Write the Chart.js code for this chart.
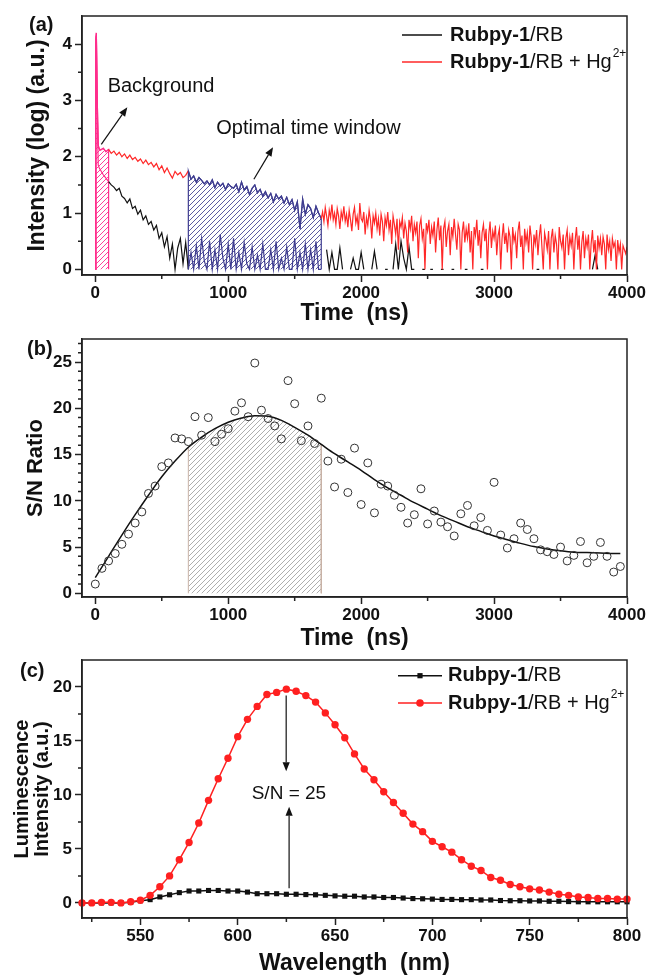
<!DOCTYPE html>
<html><head><meta charset="utf-8">
<script src="https://cdn.jsdelivr.net/npm/chart.js@4.4.1/dist/chart.umd.min.js"></script>
<style>
html,body{margin:0;padding:0;background:#fff;}
body{width:649px;height:977px;position:relative;overflow:hidden;}
canvas{position:absolute;left:0;}
</style></head><body>
<canvas id="cA" width="649" height="330" style="top:0px"></canvas>
<canvas id="cB" width="649" height="340" style="top:315px"></canvas>
<canvas id="cC" width="649" height="337" style="top:640px"></canvas>
<script>
// ---------------- DATA ----------------
const seriesNames = ['Rubpy-1/RB', 'Rubpy-1/RB + Hg²⁺'];
const legendParts = [
  [['Rubpy-1', 'b'], ['/RB', 'n']],
  [['Rubpy-1', 'b'], ['/RB + Hg', 'n'], ['2+', 'sup']]
];

// Panel (a): time-resolved decay, log intensity
const decayEarlyTimes = [0, 4, 8, 14, 22, 30];
const coarseStart = 40, coarseStep = 20;   // time base 40..1700 ns (red) and 40..4000 ns (black)
const fineStart = 1710, fineStep = 10;     // time base 1710..4000 ns (red tail)
const redEarly   = [0, 4.1, 4.2, 3.1, 2.2, 2.14];
const blackEarly = [0, 4.05, 4.15, 2.9, 1.85, 1.8];
const redCoarse = [
  2.12, 2.15, 2.09, 2.13, 2.06, 2.10, 2.03, 2.08, 2.00, 2.05,
  1.97, 2.03, 1.95, 1.99, 1.92, 1.96, 1.88, 1.94, 1.86, 1.90,
  1.82, 1.88, 1.77, 1.84, 1.72, 1.80, 1.70, 1.62, 1.74, 1.68,
  1.72, 1.63, 1.67, 1.75, 1.60, 1.66, 1.55, 1.63, 1.58, 1.52,
  1.57, 1.50, 1.59, 1.45, 1.55, 1.48, 1.53, 1.42, 1.52, 1.47,
  1.44, 1.51, 1.38, 1.55, 1.41, 1.47, 1.33, 1.44, 1.50, 1.36,
  1.42, 1.30, 1.38, 1.27, 1.35, 1.20, 1.33, 1.25, 1.30, 1.18,
  1.28, 1.15, 1.24, 1.05, 1.20, 0.72, 1.25, 0.98, 1.15, 1.08,
  0.92, 1.12, 1.00, 0.90
];
const redFine = [
  1.02, 0.85, 1.10, 0.95, 0.78, 1.05, 0.92, 1.15, 0.88, 1.00,
  0.80, 1.08, 0.95, 0.72, 1.02, 0.90, 1.12, 0.85, 0.98, 0.75,
  1.05, 0.88, 0.68, 0.98, 1.10, 0.82, 0.94, 0.70, 1.18, 0.90,
  0.85, 1.02, 0.62, 0.92, 0.78, 1.05, 0.88, 0.55, 0.95, 0.82,
  1.00, 0.72, 0.90, 0.60, 0.98, 0.85, 0.50, 0.92, 0.78, 1.02,
  0.70, 0.88, 0.45, 0.95, 0.80, 0.62, 0.90, 0.35, 0.85, 0.75,
  0.92, 0.55, 0.82, 0.68, 0.30, 0.88, 0.72, 0.95, 0.50, 0.80,
  0.65, 0.85, 0.20, 0.78, 0.90, 0.55, 0.72, 0.00, 0.82, 0.68,
  0.88, 0.45, 0.75, 0.60, 0.85, 0.30, 0.70, 0.92, 0.52, 0.78,
  0.00, 0.72, 0.85, 0.40, 0.68, 0.80, 0.25, 0.75, 0.58, 0.90,
  0.62, 0.35, 0.80, 0.70, 0.00, 0.65, 0.85, 0.48, 0.72, 0.55,
  0.82, 0.30, 0.68, 0.00, 0.75, 0.60, 0.88, 0.42, 0.70, 0.20,
  0.65, 0.80, 0.50, 0.72, 0.00, 0.62, 0.85, 0.38, 0.68, 0.55,
  0.78, 0.25, 0.60, 0.72, 0.00, 0.55, 0.82, 0.45, 0.65, 0.30,
  0.70, 0.58, 0.00, 0.75, 0.50, 0.62, 0.20, 0.68, 0.85, 0.40,
  0.60, 0.00, 0.72, 0.48, 0.65, 0.30, 0.78, 0.55, 0.00, 0.62,
  0.45, 0.70, 0.25, 0.58, 0.80, 0.40, 0.00, 0.65, 0.52, 0.35,
  0.68, 0.00, 0.55, 0.72, 0.30, 0.60, 0.45, 0.00, 0.75, 0.50,
  0.38, 0.62, 0.00, 0.55, 0.70, 0.25, 0.58, 0.42, 0.65, 0.00,
  0.52, 0.75, 0.35, 0.60, 0.00, 0.48, 0.68, 0.20, 0.55, 0.40,
  0.62, 0.00, 0.45, 0.70, 0.30, 0.52, 0.00, 0.60, 0.38, 0.55,
  0.25, 0.58, 0.45, 0.00, 0.62, 0.35, 0.50, 0.15, 0.55, 0.40,
  0.48, 0.00, 0.52, 0.30, 0.45, 0.00, 0.42, 0.35, 0.28, 0.40
];
const blackCoarse = [
  1.76, 1.68, 1.62, 1.56, 1.50, 1.46, 1.40, 1.44, 1.30, 1.26,
  1.18, 1.25, 1.08, 1.12, 0.98, 1.05, 0.88, 0.95, 0.80, 0.85,
  0.70, 0.78, 0.55, 0.65, 0.40, 0.58, 0.20, 0.45, 0.00, 0.38,
  0.55, 0.10, 0.48, 0.00, 0.30, 0.00, 0.42, 0.00, 0.55, 0.15,
  0.00, 0.50, 0.00, 0.35, 0.00, 0.62, 0.20, 0.00, 0.45, 0.00,
  0.55, 0.00, 0.30, 0.00, 0.48, 0.10, 0.00, 0.40, 0.00, 0.25,
  0.00, 0.45, 0.00, 0.00, 0.35, 0.00, 0.50, 0.00, 0.20, 0.00,
  0.40, 0.00, 0.00, 0.55, 0.00, 0.30, 0.00, 0.45, 0.00, 0.35,
  0.00, 0.50, 0.00, 0.00, null, 0.35, 0.00, 0.30, 0.00, 0.00,
  0.38, 0.00, null, null, 0.00, 0.20, 0.00, 0.00, 0.30, 0.00,
  null, null, 0.00, 0.32, 0.00, null, null, 0.00, 0.00, null,
  0.00, 0.45, 0.00, 0.50, 0.20, 0.00, 0.40, 0.00, 0.00, null,
  null, 0.00, 0.00, null, 0.00, 0.00, null, null, 0.00, 0.00,
  null, null, 0.00, 0.00, null, null, null, 0.00, 0.00, null,
  null, null, null, 0.00, 0.00, null, null, null, null, null,
  null, null, null, null, null, null, null, null, null, null,
  null, null, null, null, 0.00, 0.00, null, null, null, null,
  null, null, null, null, null, null, null, null, null, null,
  null, null, null, null, null, 0.00, 0.25, 0.00, null, null,
  null, null, null, null, null, null, null, null, null
];
const bgWindow = [0, 100];
const optWindow = [700, 1700];
const ticksAX = [0, 1000, 2000, 3000, 4000];
const minorAX = [500, 1500, 2500, 3500];
const ticksAY = [0, 1, 2, 3, 4];
const minorAY = [0.5, 1.5, 2.5, 3.5];

// Panel (b): S/N ratio vs delay time
const snValues = [
  1.0, 2.7, 3.5, 4.3, 5.3, 6.4, 7.6, 8.8, 10.8, 11.6,
  13.7, 14.1, 16.8, 16.7, 16.4, 19.1, 17.1, 19.0, 16.4, 17.2,
  17.8, 19.7, 20.6, 19.1, 24.9, 19.8, 18.9, 18.1, 16.7, 23.0,
  20.5, 16.5, 18.1, 16.2, 21.1, 14.3, 11.5, 14.5, 10.9, 15.7,
  9.6, 14.1, 8.7, 11.8, 11.6, 10.6, 9.3, 7.6, 8.5, 11.3,
  7.5, 8.9, 7.7, 7.2, 6.2, 8.6, 9.5, 7.3, 8.2, 6.8,
  12.0, 6.3, 4.9, 5.9, 7.6, 6.9, 5.9, 4.7, 4.5, 4.2,
  5.0, 3.5, 4.1, 5.6, 3.3, 4.0, 5.5, 4.0, 2.3, 2.9
];
const snStep = 50;
const fitTimes = [0, 100, 200, 300, 400, 500, 600, 700, 800, 900, 1000, 1100, 1200, 1300, 1400, 1500, 1600, 1700, 1800, 1900,
  2000, 2100, 2200, 2300, 2400, 2500, 2600, 2700, 2800, 2900, 3000, 3100, 3200, 3300, 3400, 3500, 3600, 3700, 3800, 3900, 3950];
const fitValues = [1.7, 4.0, 6.3, 8.5, 10.6, 12.6, 14.3, 15.8, 16.9, 17.8, 18.5, 18.95, 19.2, 19.15, 18.7, 17.95, 17.1, 16.1, 15.1, 14.2,
  13.3, 12.3, 11.4, 10.6, 9.8, 9.1, 8.4, 7.8, 7.2, 6.7, 6.2, 5.8, 5.4, 5.05, 4.8, 4.6, 4.45, 4.4, 4.35, 4.3, 4.3];
const ticksBX = [0, 1000, 2000, 3000, 4000];
const minorBX = [500, 1500, 2500, 3500];
const ticksBY = [0, 5, 10, 15, 20, 25];
const minorBY = [1, 2, 3, 4, 6, 7, 8, 9, 11, 12, 13, 14, 16, 17, 18, 19, 21, 22, 23, 24, 26, 27];

// Panel (c): emission spectra
const wlStart = 520, wlStep = 5;
const specRed = [
  0.0, 0.0, 0.05, 0.05, 0.0, 0.1,
  0.25, 0.7, 1.5, 2.5, 4.0, 5.6, 7.4, 9.5, 11.5, 13.4,
  15.4, 17.0, 18.2, 19.3, 19.5, 19.8, 19.6, 19.2, 18.6, 17.6,
  16.5, 15.3, 13.8, 12.4, 11.4, 10.3, 9.3, 8.3, 7.3, 6.6,
  5.7, 5.2, 4.7, 4.0, 3.4, 3.0, 2.35, 2.1, 1.7, 1.5,
  1.3, 1.2, 1.0, 0.8, 0.7, 0.55, 0.5, 0.4, 0.4, 0.35,
  0.35
];
const specBlack = [
  0.0, 0.0, 0.0, 0.0, 0.0, 0.05,
  0.2, 0.3, 0.55, 0.75, 0.95, 1.1, 1.1, 1.15, 1.15, 1.1,
  1.1, 1.0, 0.85, 0.85, 0.85, 0.8, 0.8, 0.77, 0.75, 0.7,
  0.65, 0.62, 0.62, 0.55, 0.55, 0.5, 0.5, 0.45, 0.4, 0.38,
  0.35, 0.32, 0.32, 0.3, 0.3, 0.27, 0.27, 0.22, 0.2, 0.2,
  0.18, 0.18, 0.15, 0.15, 0.12, 0.1, 0.1, 0.1, 0.1, 0.1,
  0.1
];
const ticksCX = [550, 600, 650, 700, 750, 800];
const minorCX = [525, 575, 625, 675, 725, 775];
const ticksCY = [0, 5, 10, 15, 20];
const minorCY = [2.5, 7.5, 12.5, 17.5];

// ---------------- STYLE / HELPERS ----------------
const FONT = "'Liberation Sans', Arial, Helvetica, sans-serif";
Chart.defaults.font.family = FONT;
const PINK = '#ff2d8c', BLUE = '#3f3d90', RED = '#ff2828', BLACK = '#111111', AX = '#222222';

function hatch(color, s, lw) {
  const c = document.createElement('canvas'); c.width = s; c.height = s;
  const g = c.getContext('2d'); g.strokeStyle = color; g.lineWidth = lw;
  g.beginPath();
  g.moveTo(0, s); g.lineTo(s, 0);
  g.moveTo(-1, 1); g.lineTo(1, -1);
  g.moveTo(s - 1, s + 1); g.lineTo(s + 1, s - 1);
  g.stroke();
  return g.createPattern(c, 'repeat');
}
const pts = (xs, ys) => xs.map((x, i) => ({x, y: ys[i]}));

const TICK_FONT = {family: FONT, size: 17, weight: 'bold'};
function xAxis(min, max, ticks, title, height, padBottom) {
  return {
    type: 'linear', min, max,
    afterBuildTicks: s => { s.ticks = ticks.map(v => ({value: v})); },
    afterFit: s => { s.height = height; },
    grid: {drawOnChartArea: false, drawTicks: true, tickLength: 7, tickWidth: 1.5, tickColor: AX},
    border: {display: true, color: AX, width: 1.5},
    ticks: {font: TICK_FONT, color: '#111', padding: 1, maxRotation: 0, autoSkip: false, callback: v => String(v)},
    title: {display: true, text: title, color: '#111', font: {family: FONT, size: 23, weight: 'bold'}, padding: {top: 0, bottom: padBottom}}
  };
}
function yAxis(min, max, ticks, title, titleSize, padTop, lineHeight) {
  return {
    type: 'linear', min, max,
    afterBuildTicks: s => { s.ticks = ticks.map(v => ({value: v})); },
    afterFit: s => { s.width = 82; },
    grid: {drawOnChartArea: false, drawTicks: true, tickLength: 7, tickWidth: 1.5, tickColor: AX},
    border: {display: true, color: AX, width: 1.5},
    ticks: {font: TICK_FONT, color: '#111', padding: 3, autoSkip: false, callback: v => String(v)},
    title: {display: true, text: title, color: '#111', font: {family: FONT, size: titleSize, weight: 'bold', lineHeight: lineHeight || 1.2}, padding: {top: padTop, bottom: 0}}
  };
}

function arrow(ctx, x1, y1, x2, y2) {
  const ang = Math.atan2(y2 - y1, x2 - x1), L = 9, W = 3.6;
  const bx = x2 - L * Math.cos(ang), by = y2 - L * Math.sin(ang);
  ctx.beginPath(); ctx.moveTo(x1, y1); ctx.lineTo(bx, by); ctx.stroke();
  ctx.beginPath(); ctx.moveTo(x2, y2);
  ctx.lineTo(bx + W * Math.sin(ang), by - W * Math.cos(ang));
  ctx.lineTo(bx - W * Math.sin(ang), by + W * Math.cos(ang));
  ctx.closePath(); ctx.fill();
}

const decor = {
  id: 'decor',
  afterDraw(chart, args, o) {
    const {ctx, chartArea: a} = chart; const sx = chart.scales.x, sy = chart.scales.y;
    ctx.save();
    ctx.strokeStyle = AX; ctx.lineWidth = 1.5;
    ctx.strokeRect(a.left, a.top, a.right - a.left, a.bottom - a.top);
    ctx.beginPath();
    (o.minorX || []).forEach(v => { const p = sx.getPixelForValue(v); ctx.moveTo(p, a.bottom); ctx.lineTo(p, a.bottom + 4); });
    (o.minorY || []).forEach(v => { const p = sy.getPixelForValue(v); ctx.moveTo(a.left, p); ctx.lineTo(a.left - 4, p); });
    ctx.stroke();
    ctx.fillStyle = '#111'; ctx.textBaseline = 'middle'; ctx.textAlign = 'left';
    if (o.panel) { ctx.font = 'bold 20px ' + FONT; ctx.fillText(o.panel.text, o.panel.x, o.panel.y); }
    (o.legend || []).forEach(e => {
      ctx.strokeStyle = e.color; ctx.lineWidth = 1.5;
      ctx.beginPath(); ctx.moveTo(e.x0, e.y); ctx.lineTo(e.x1, e.y); ctx.stroke();
      if (e.marker) {
        ctx.fillStyle = e.color; const mx = (e.x0 + e.x1) / 2;
        if (e.marker === 'rect') ctx.fillRect(mx - 2.6, e.y - 2.6, 5.2, 5.2);
        else { ctx.beginPath(); ctx.arc(mx, e.y, 3.8, 0, Math.PI * 2); ctx.fill(); }
      }
      ctx.fillStyle = '#111';
      let x = e.tx;
      e.parts.forEach(([t, s]) => {
        if (s === 'sup') { ctx.font = '12px ' + FONT; ctx.fillText(t, x + 1, e.y - 8); x += ctx.measureText(t).width + 1; }
        else { ctx.font = (s === 'b' ? 'bold ' : '') + '20px ' + FONT; ctx.fillText(t, x, e.y); x += ctx.measureText(t).width; }
      });
    });
    ctx.fillStyle = '#111'; ctx.strokeStyle = '#111'; ctx.lineWidth = 1.2;
    (o.notes || []).forEach(n => {
      ctx.font = n.size + 'px ' + FONT; ctx.textAlign = n.align || 'left';
      ctx.fillText(n.text, sx.getPixelForValue(n.x), sy.getPixelForValue(n.y));
    });
    (o.arrows || []).forEach(r => {
      arrow(ctx, sx.getPixelForValue(r[0]), sy.getPixelForValue(r[1]), sx.getPixelForValue(r[2]), sy.getPixelForValue(r[3]));
    });
    ctx.restore();
  }
};

function zoneColor(base) {
  return c => {
    const x0 = c.p0.parsed.x, x1 = c.p1.parsed.x;
    if (x1 <= bgWindow[1]) return PINK;
    if (x0 >= optWindow[0] && x1 <= optWindow[1]) return BLUE;
    return base;
  };
}

// ---------------- PANEL (a) ----------------
const timesRed = decayEarlyTimes
  .concat(redCoarse.map((_, i) => coarseStart + i * coarseStep))
  .concat(redFine.map((_, i) => fineStart + i * fineStep));
const timesBlack = decayEarlyTimes.concat(blackCoarse.map((_, i) => coarseStart + i * coarseStep));
const redPts = pts(timesRed, redEarly.concat(redCoarse, redFine));
const blackPts = pts(timesBlack, blackEarly.concat(blackCoarse));
const bgFill = redPts.filter(p => p.x <= bgWindow[1]).concat([{x: bgWindow[1], y: 0}]);
const optFill = [{x: optWindow[0], y: 0}].concat(redPts.filter(p => p.x >= optWindow[0] && p.x <= optWindow[1]), [{x: optWindow[1], y: 0}]);

new Chart(document.getElementById('cA'), {
  type: 'line',
  data: {datasets: [
    {label: seriesNames[1], data: redPts, borderColor: RED, borderWidth: 1.2, pointRadius: 0, segment: {borderColor: zoneColor(RED)}, order: 1},
    {label: seriesNames[0], data: blackPts, borderColor: BLACK, borderWidth: 1.2, pointRadius: 0, spanGaps: false, segment: {borderColor: zoneColor(BLACK)}, order: 2},
    {label: 'Background', data: bgFill, borderColor: PINK, borderWidth: 1.2, pointRadius: 0, fill: 'origin', backgroundColor: hatch(PINK, 5, 0.9), order: 3},
    {label: 'Optimal time window', data: optFill, borderColor: BLUE, borderWidth: 1.2, pointRadius: 0, fill: 'origin', backgroundColor: hatch(BLUE, 5, 0.85), order: 3}
  ]},
  options: {
    responsive: false, animation: false, events: [],
    layout: {padding: {left: 0, right: 22, top: 16, bottom: 0}},
    plugins: {
      legend: {display: false}, tooltip: {enabled: false},
      decor: {
        minorX: minorAX, minorY: minorAY,
        panel: {text: '(a)', x: 29, y: 25.5},
        legend: [
          {x0: 402, x1: 442, y: 35, color: BLACK, tx: 450, parts: legendParts[0]},
          {x0: 402, x1: 442, y: 62, color: RED, tx: 450, parts: legendParts[1]}
        ],
        notes: [
          {text: 'Background', x: 93, y: 3.24, size: 20},
          {text: 'Optimal time window', x: 910, y: 2.51, size: 20}
        ],
        arrows: [[45, 2.22, 241, 2.88], [1193, 1.60, 1337, 2.17]]
      }
    },
    scales: {
      x: xAxis(-100, 4000, ticksAX, 'Time  (ns)', 55, 3),
      y: yAxis(-0.1, 4.5, ticksAY, 'Intensity (log) (a.u.)', 23, 23.5)
    }
  },
  plugins: [decor]
});

// ---------------- PANEL (b) ----------------
const snPts = pts(snValues.map((_, i) => i * snStep), snValues);
const fitPts = pts(fitTimes, fitValues);
const fitFill = [{x: optWindow[0], y: 0}].concat(fitPts.filter(p => p.x >= optWindow[0] && p.x <= optWindow[1]), [{x: optWindow[1], y: 0}]);

new Chart(document.getElementById('cB'), {
  type: 'line',
  data: {datasets: [
    {label: 'S/N', data: snPts, showLine: false, pointStyle: 'circle', pointRadius: 4, pointBorderWidth: 1, pointBorderColor: '#333', pointBackgroundColor: 'rgba(0,0,0,0)', order: 1},
    {label: 'Fit', data: fitPts, borderColor: BLACK, borderWidth: 1.5, pointRadius: 0, cubicInterpolationMode: 'monotone', order: 2},
    {label: 'Optimal time window', data: fitFill, borderWidth: 1, pointRadius: 0, fill: 'origin', backgroundColor: hatch('#a5a5a5', 5, 0.9),
      segment: {borderColor: c => c.p0.parsed.x === c.p1.parsed.x ? '#c8b2a6' : 'rgba(0,0,0,0)'}, order: 3}
  ]},
  options: {
    responsive: false, animation: false, events: [],
    layout: {padding: {left: 0, right: 22, top: 24, bottom: 0}},
    plugins: {
      legend: {display: false}, tooltip: {enabled: false},
      decor: {minorX: minorBX, minorY: minorBY, panel: {text: '(b)', x: 27, y: 34}}
    },
    scales: {
      x: xAxis(-100, 4000, ticksBX, 'Time  (ns)', 58, 3),
      y: yAxis(-0.4, 27.5, ticksBY, 'S/N Ratio', 22, 23)
    }
  },
  plugins: [decor]
});

// ---------------- PANEL (c) ----------------
const wl = specRed.map((_, i) => wlStart + i * wlStep);
new Chart(document.getElementById('cC'), {
  type: 'line',
  data: {datasets: [
    {label: seriesNames[1], data: pts(wl, specRed), borderColor: '#ff2020', borderWidth: 1.5, pointStyle: 'circle', pointRadius: 3.7, pointBorderWidth: 0, pointBackgroundColor: '#ff2020', clip: 6, order: 1},
    {label: seriesNames[0], data: pts(wl, specBlack), borderColor: BLACK, borderWidth: 1.5, pointStyle: 'rect', pointRadius: 3.6, pointBorderWidth: 0, pointBackgroundColor: BLACK, clip: 6, order: 2}
  ]},
  options: {
    responsive: false, animation: false, events: [],
    layout: {padding: {left: 0, right: 22, top: 20, bottom: 0}},
    plugins: {
      legend: {display: false}, tooltip: {enabled: false},
      decor: {
        minorX: minorCX, minorY: minorCY,
        panel: {text: '(c)', x: 20, y: 31},
        legend: [
          {x0: 398, x1: 442, y: 35.7, color: BLACK, marker: 'rect', tx: 448, parts: legendParts[0]},
          {x0: 398, x1: 442, y: 63, color: '#ff2020', marker: 'circle', tx: 448, parts: legendParts[1]}
        ],
        notes: [{text: 'S/N = 25', x: 626.3, y: 10.15, size: 19, align: 'center'}],
        arrows: [[624.9, 19.2, 624.9, 12.2], [626.4, 1.35, 626.4, 8.9]]
      }
    },
    scales: {
      x: xAxis(520, 800, ticksCX, 'Wavelength  (nm)', 59, 0),
      y: yAxis(-1.4, 22.5, ticksCY, ['Luminescence', 'Intensity (a.u.)'], 20, 12.5, 1.0)
    }
  },
  plugins: [decor]
});
</script>
</body></html>
